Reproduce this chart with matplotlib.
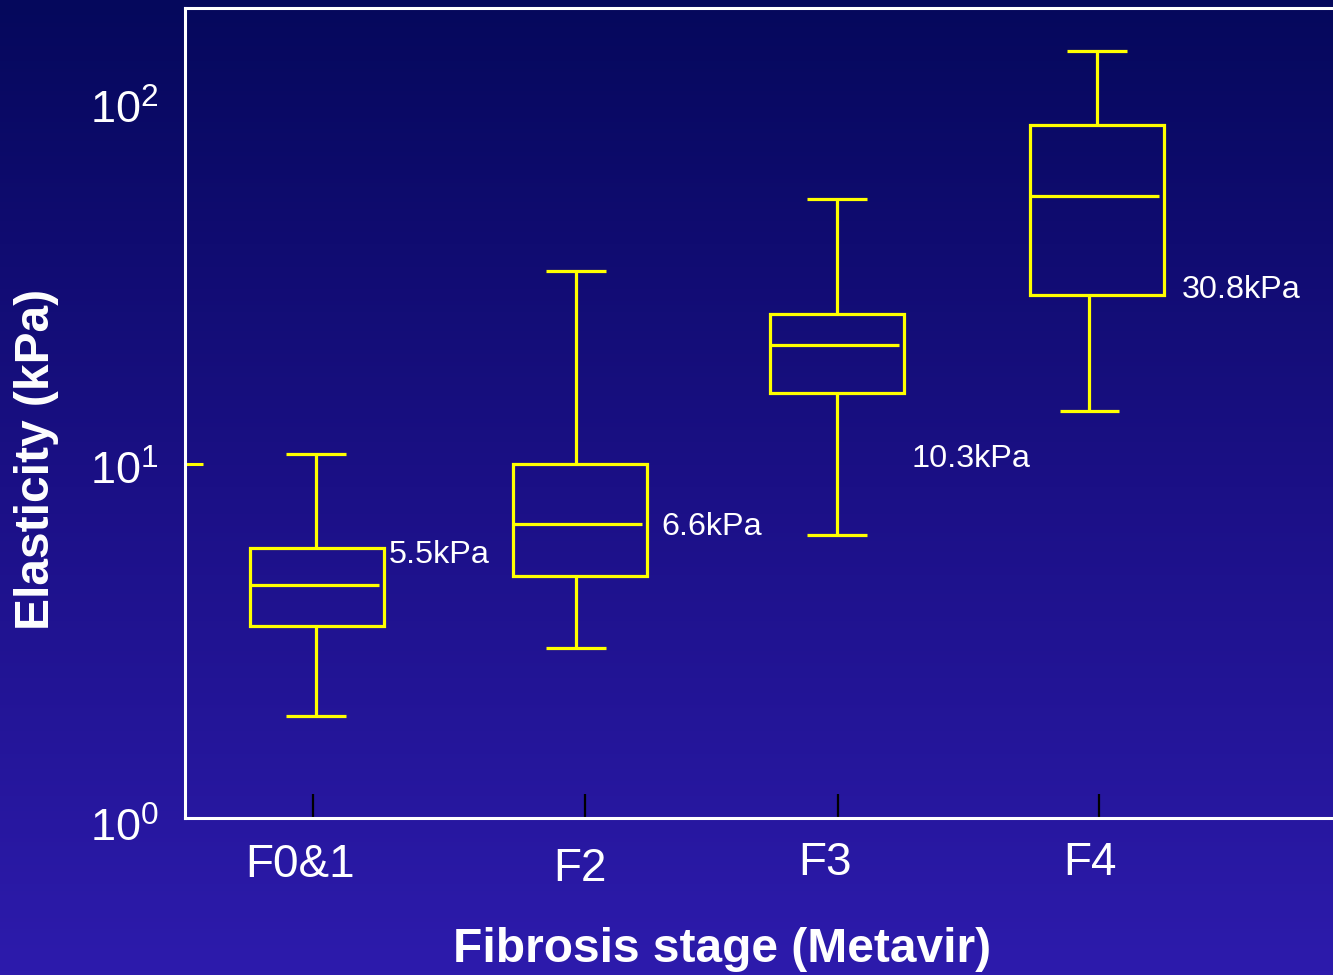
import numpy as np
import matplotlib
matplotlib.use("Agg")
import matplotlib.pyplot as plt
from matplotlib.patches import Rectangle
from matplotlib.transforms import ScaledTranslation
from matplotlib.ticker import FixedLocator, NullLocator

plt.rcParams["font.family"] = ["Liberation Sans", "DejaVu Sans"]
plt.rcParams["mathtext.fontset"] = "custom"
plt.rcParams["mathtext.rm"] = "Liberation Sans"
plt.rcParams["mathtext.it"] = "Liberation Sans:italic"
plt.rcParams["mathtext.bf"] = "Liberation Sans:bold"

# Liver stiffness (kPa) by Metavir fibrosis stage
stages = ["F0&1", "F2", "F3", "F4"]
whisker_low = [1.94, 3.02, 6.30, 14.1]
quartile_1 = [3.49, 4.83, 15.9, 30.0]
median = [4.55, 6.77, 21.7, 57.1]
quartile_3 = [5.79, 10.0, 26.5, 90.7]
whisker_high = [10.7, 35.1, 56.0, 146.9]

# Diagnostic cut-off values shown beside each box
cutoffs = [5.5, 6.6, 10.3, 30.8]
cutoff_labels = ["5.5kPa", "6.6kPa", "10.3kPa", "30.8kPa"]

y_ticks = [1, 10, 100]
y_tick_labels = [r"$\mathregular{10^{0}}$", r"$\mathregular{10^{1}}$", r"$\mathregular{10^{2}}$"]

# --- styling -------------------------------------------------------------
YELLOW = "#ffff00"
WHITE = "#ffffff"
box_w = 0.515
cap_w = 0.23
lw = 2.3
box_shift = [0.0, 0.012, 0.0, 0.0]
low_whisker_shift = [-0.004, -0.015, 0.0, -0.029]
high_whisker_shift = [-0.004, -0.015, 0.0, 0.0]
tick_shift = [-0.015, 0.031, 0.004, 0.008]
note_dx = [0.277, 0.323, 0.288, 0.327]
label_dx_pt = [-9.4, -3.6, -9.4, -6.5]
label_dy_pt = [0, -3, 1.5, 1.5]

fig = plt.figure(figsize=(13.33, 9.75), dpi=100)

# vertical background gradient, dark navy at the top to violet-blue at the bottom
bg = fig.add_axes([0, 0, 1, 1], zorder=-10)
bg.set_axis_off()
t = np.linspace(0, 1, 256)[:, None]
top = np.array([5, 8, 92]) / 255
mid = np.array([27, 16, 134]) / 255
bot = np.array([45, 27, 172]) / 255
col = np.where(t < 0.5, top + (mid - top) * (t / 0.5), mid + (bot - mid) * ((t - 0.5) / 0.5))
grad = np.repeat(col[:, None, :], 2, axis=1).reshape(256, 2, 3)
bg.imshow(grad, aspect="auto", extent=[0, 1, 0, 1], origin="upper")
bg.set_xlim(0, 1)
bg.set_ylim(0, 1)

ax = fig.add_axes([185 / 1333, 157 / 975, 1 - 185 / 1333, 810 / 975])
ax.patch.set_alpha(0)
ax.set_yscale("log")
ax.set_ylim(1, 194)
ax.set_xlim(0.4923, 4.9077)

for sp in ["top", "left", "bottom"]:
    ax.spines[sp].set_color(WHITE)
    ax.spines[sp].set_linewidth(2.2)
ax.spines["right"].set_visible(False)

for i in range(len(stages)):
    x = i + 1 + box_shift[i]
    ax.add_patch(Rectangle((x - box_w / 2, quartile_1[i]), box_w, quartile_3[i] - quartile_1[i],
                           fill=False, edgecolor=YELLOW, lw=lw, zorder=3))
    ax.hlines(median[i], x - box_w / 2, x + box_w / 2 - 0.02, color=YELLOW, lw=lw, zorder=3)
    xh = x + high_whisker_shift[i]
    xl = x + low_whisker_shift[i]
    ax.vlines(xh, quartile_3[i], whisker_high[i], color=YELLOW, lw=lw, zorder=3)
    ax.vlines(xl, whisker_low[i], quartile_1[i], color=YELLOW, lw=lw, zorder=3)
    ax.hlines(whisker_high[i], xh - cap_w / 2, xh + cap_w / 2, color=YELLOW, lw=lw, zorder=3)
    ax.hlines(whisker_low[i], xl - cap_w / 2, xl + cap_w / 2, color=YELLOW, lw=lw, zorder=3)
    ax.annotate(cutoff_labels[i], xy=(i + 1 + note_dx[i], cutoffs[i]), xytext=(0, 3),
                textcoords="offset points", color=WHITE, fontsize=23.3,
                ha="left", va="center_baseline", zorder=4)

# x axis: short black ticks inside the frame, category names below
ax.xaxis.set_major_locator(FixedLocator([i + 1 + s for i, s in enumerate(tick_shift)]))
ax.set_xticklabels(stages)
ax.tick_params(axis="x", direction="in", length=17, width=1.6, color="black",
               labelsize=33, labelcolor=WHITE, pad=18)
for lbl, dx, dy in zip(ax.get_xticklabels(), label_dx_pt, label_dy_pt):
    lbl.set_transform(lbl.get_transform() + ScaledTranslation(dx / 72, dy / 72, fig.dpi_scale_trans))

# y axis: log decades, only the middle tick drawn as a short yellow mark
ax.yaxis.set_major_locator(FixedLocator(y_ticks))
ax.yaxis.set_minor_locator(NullLocator())
ax.set_yticklabels(y_tick_labels)
ax.tick_params(axis="y", direction="in", length=13, width=2.2, color=YELLOW,
               labelsize=32.5, labelcolor=WHITE, pad=19)
yt = ax.yaxis.get_major_ticks()
yt[0].tick1line.set_visible(False)
yt[2].tick1line.set_visible(False)
for lbl, dy in zip(ax.get_yticklabels(), [-5, -3, 2]):
    lbl.set_transform(lbl.get_transform() + ScaledTranslation(0, dy / 72, fig.dpi_scale_trans))

fig.text(37 / 1333, 1 - 459 / 975, "Elasticity (kPa)", rotation=90, color=WHITE,
         fontsize=34.5, fontweight="bold", ha="center", va="center")
fig.text(722 / 1333, 1 - 950 / 975, "Fibrosis stage (Metavir)", color=WHITE,
         fontsize=34.5, fontweight="bold", ha="center", va="center")

fig.savefig("out.png", dpi=100)
